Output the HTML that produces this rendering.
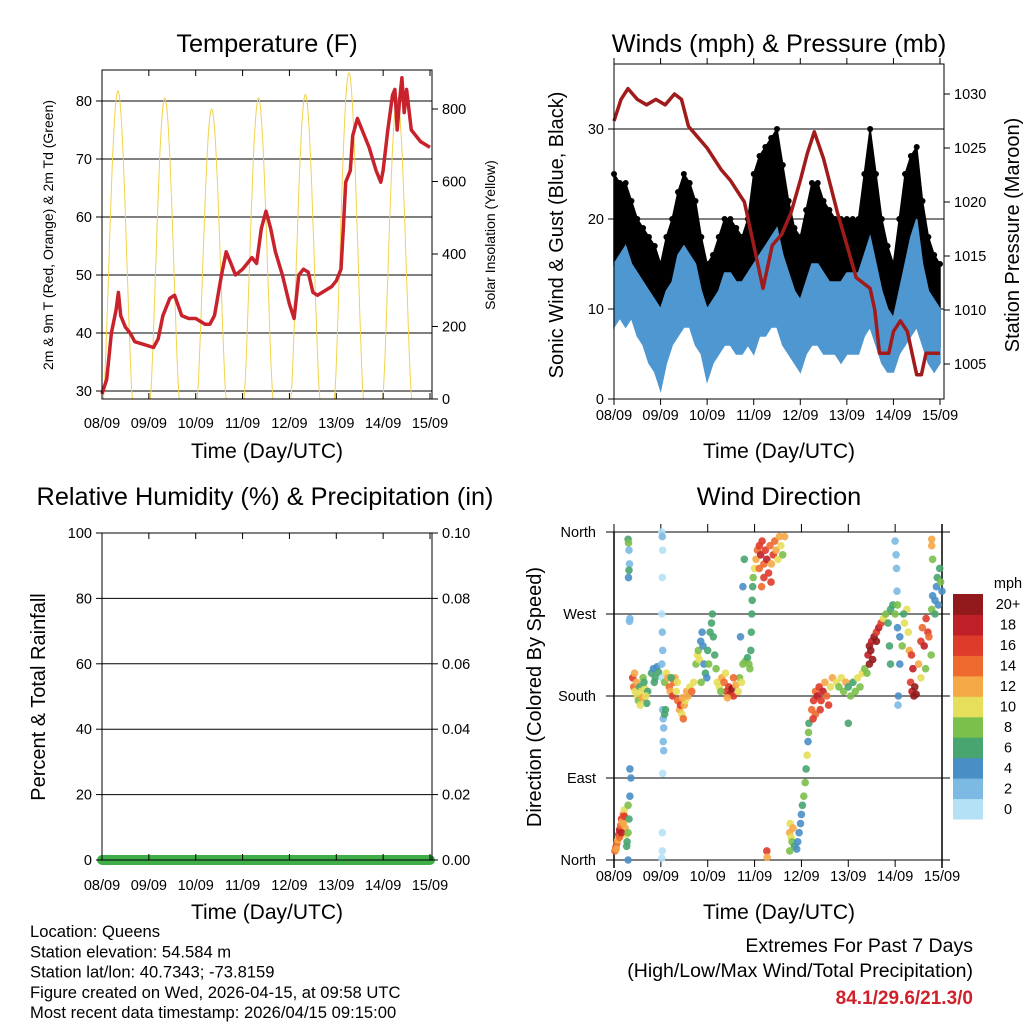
<!DOCTYPE html>
<html><head><meta charset="utf-8"><style>
body{margin:0;background:#fff;}
svg{display:block;font-family:"Liberation Sans",Arial,sans-serif;}
</style></head><body>
<svg id="c" width="1024" height="1024" viewBox="0 0 1024 1024" xmlns="http://www.w3.org/2000/svg"></svg>
<script>
// ---- Data ----
const dayLabels = ["08/09","09/09","10/09","11/09","12/09","13/09","14/09","15/09"];
const tempTimes = [0,0.1,0.2,0.3,0.35,0.4,0.5,0.6,0.7,0.9,1.1,1.2,1.3,1.45,1.55,1.7,1.85,2.0,2.2,2.3,2.4,2.55,2.65,2.75,2.85,3.0,3.1,3.2,3.3,3.4,3.5,3.6,3.7,3.85,4.0,4.1,4.2,4.3,4.4,4.5,4.6,4.7,4.9,5.0,5.1,5.15,5.2,5.3,5.35,5.45,5.55,5.7,5.85,5.95,6.0,6.1,6.2,6.25,6.3,6.35,6.4,6.45,6.5,6.6,6.8,7.0];
const tempValues = [29.5,32,40,44,47,43,41,40,38.5,38,37.5,39,43,46,46.5,43,42.5,42.5,41.5,41.5,43,50,54,52,50,51,52,53,52,58,61,58,54,50,45,42.5,50,51,50.5,47,46.5,47,48,49,51,58,66,68,74,77,75,72,68,66,68,75,81,82,75,80,84,78,82,75,73,72];
const solarPeakTimes = [0.34,1.34,2.34,3.34,4.34,5.27,6.3];
const solarPeakValues = [850,830,800,830,840,900,830];
const pressTimes = [0,0.15,0.3,0.5,0.7,0.9,1.1,1.3,1.45,1.6,1.8,2.0,2.3,2.5,2.8,2.9,3.1,3.2,3.4,3.6,3.8,4.0,4.15,4.3,4.5,4.8,5.0,5.2,5.5,5.6,5.7,5.9,6.0,6.15,6.3,6.5,6.6,6.7,7.0];
const pressValues = [1027.5,1029.5,1030.5,1029.5,1029,1029.5,1029,1030,1029.5,1027,1026,1025,1023,1022,1020,1018,1014,1012,1016,1017,1019,1022,1024.5,1026.5,1024,1019,1016,1013,1012,1010,1006,1006,1008,1009,1008,1004,1004,1006,1006];
const windTimes = [0,0.125,0.25,0.375,0.5,0.625,0.75,0.875,1.0,1.125,1.25,1.375,1.5,1.625,1.75,1.875,2.0,2.125,2.25,2.375,2.5,2.625,2.75,2.875,3.0,3.125,3.25,3.375,3.5,3.625,3.75,3.875,4.0,4.125,4.25,4.375,4.5,4.625,4.75,4.875,5.0,5.125,5.25,5.375,5.5,5.625,5.75,5.875,6.0,6.125,6.25,6.375,6.5,6.625,6.75,6.875,7.0];
const windLow = [8,9,8,9,7,6,4,3,1,4,6,7,8,8,6,5,2,4,5,6,6,5,5,6,5,7,7,8,8,6,5,4,3,5,6,6,5,5,5,4,5,5,5,7,8,6,4,3,3,5,6,7,8,6,4,3,4];
const windHigh = [15,16,17,15,14,13,12,11,10,12,13,16,17,16,15,12,10,11,12,14,14,13,13,14,15,16,17,18,19,16,14,12,11,13,15,15,14,13,13,13,14,14,14,16,18,15,12,10,9,12,15,18,20,15,12,11,10];
const gustLow = [15,16,17,15,12,11,8,6,4,8,12,14,16,15,12,9,5,7,8,11,12,11,10,11,12,14,15,16,16,13,10,9,8,10,12,12,10,9,8,8,9,10,10,13,15,12,8,6,5,8,10,13,14,11,8,7,6];
const gustHigh = [25,24,24,22,20,19,18,17,15,18,20,23,25,24,22,18,15,16,18,20,20,19,18,20,25,27,28,29,30,26,22,19,18,21,24,24,22,21,20,20,20,20,20,25,30,25,20,17,15,20,25,27,28,22,18,16,15];
const rainValues = [0,0,0,0,0,0,0,0];
const speedBins = ["0","2","4","6","8","10","12","14","16","18","20+"];
const dirObs = [
[0.02,10,14],[0.04,14,16],[0.06,18,14],[0.08,22,12],[0.1,28,16],[0.12,33,18],[0.14,38,14],[0.16,45,16],[0.18,42,12],[0.2,50,14],[0.22,55,10],[0.24,35,12],[0.26,28,10],[0.12,25,14],[0.16,30,18],[0.2,40,12],[0.05,12,12],[0.22,48,16],[0.28,20,6],[0.3,60,8],[0.32,45,6],[0.34,70,4],[0.36,90,4],[0.34,100,4],[0.3,30,8],[0.27,15,6],[0.3,0,4],
[0.3,352,6],[0.31,348,8],[0.32,340,2],[0.33,325,2],[0.32,318,6],[0.31,310,4],[0.33,262,2],[0.34,265,2],
[0.4,200,16],[0.42,190,14],[0.45,185,10],[0.48,195,12],[0.5,180,10],[0.52,175,8],[0.55,190,6],[0.58,185,10],[0.6,178,12],[0.62,200,8],[0.66,188,10],[0.7,172,6],[0.72,185,6],[0.44,205,12],[0.56,170,10],[0.64,195,6],[0.68,180,10],
[0.8,205,6],[0.84,210,4],[0.88,200,6],[0.92,212,4],[0.95,206,6],[0.86,195,6],
[1.02,360,0],[1.03,355,2],[1.04,340,0],[1.03,310,0],[1.02,270,0],[1.03,250,2],[1.04,230,2],[1.02,215,2],[1.03,200,0],[1.04,165,2],[1.05,155,2],[1.06,145,2],[1.05,130,2],[1.06,120,2],[1.04,95,0],[1.03,30,0],[1.03,10,0],[1.02,2,0],[1.08,160,6],[1.1,165,6],
[1.08,195,8],[1.12,205,10],[1.15,200,12],[1.18,190,14],[1.2,185,12],[1.25,180,16],[1.28,195,14],[1.3,200,12],[1.33,185,10],[1.36,175,14],[1.4,165,12],[1.42,170,16],[1.45,160,10],[1.48,155,14],[1.5,170,12],[1.52,175,10],[1.55,185,12],[1.58,180,12],[1.62,190,10],[1.66,185,14],[1.7,195,10],[1.35,195,10],[1.22,200,6],[1.46,178,12],
[1.75,215,8],[1.78,225,10],[1.8,230,8],[1.82,220,10],[1.85,240,4],[1.88,250,4],[1.9,235,4],[1.92,215,4],[1.95,205,6],[1.98,200,4],[2.0,230,6],[2.05,250,6],[2.08,260,6],[2.1,270,6],[2.12,245,6],[2.15,225,6],[2.18,210,8],[2.2,195,10],[1.86,195,8],[2.02,215,8],
[2.25,190,10],[2.3,200,12],[2.35,195,14],[2.4,185,16],[2.45,190,16],[2.48,182,18],[2.52,188,20],[2.55,180,16],[2.6,192,12],[2.65,185,10],[2.68,200,8],[2.72,195,10],[2.55,200,14],[2.42,178,12],[2.28,185,8],[2.38,205,10],
[2.75,215,8],[2.8,218,8],[2.85,222,6],[2.88,215,8],[2.9,210,8],[2.92,230,6],[2.93,250,6],[2.94,270,6],[2.95,285,6],[2.96,300,6],[2.97,310,8],[2.7,245,4],[2.75,300,4],[2.78,330,6],
[3.0,320,10],[3.03,330,12],[3.06,340,14],[3.1,345,16],[3.13,335,18],[3.16,350,16],[3.2,325,14],[3.23,340,16],[3.26,330,18],[3.3,315,16],[3.33,345,14],[3.36,325,12],[3.4,335,16],[3.43,350,14],[3.46,340,12],[3.5,330,10],[3.53,355,12],[3.56,345,10],[3.6,335,8],[3.64,355,12],[3.1,320,14],[3.2,310,16],[3.35,305,16],[3.15,300,14],
[3.26,10,16],[3.27,3,12],
[3.75,30,12],[3.78,25,10],[3.8,20,8],[3.85,15,6],[3.9,12,4],[3.92,20,4],[3.95,30,4],[3.98,40,4],[4.0,50,4],[3.76,40,10],[3.82,35,12],[3.75,10,8],
[4.02,60,6],[4.05,70,8],[4.08,85,8],[4.1,100,6],[4.12,115,10],[4.14,130,4],[4.15,140,8],[4.16,150,6],
[4.22,165,14],[4.26,175,16],[4.3,185,14],[4.34,180,18],[4.38,190,16],[4.42,175,16],[4.46,185,18],[4.5,195,12],[4.54,180,14],[4.58,170,16],[4.62,190,10],[4.66,200,12],[4.3,160,14],[4.4,165,16],[4.25,155,16],
[4.75,195,10],[4.8,190,8],[4.85,200,10],[4.9,185,8],[4.95,195,12],[5.0,190,6],[5.05,180,8],[5.1,195,6],[5.15,185,8],[5.2,200,10],[5.25,190,8],[5.3,205,10],[5.35,210,8],[5.0,150,6],
[5.42,225,18],[5.45,235,20],[5.48,230,20],[5.5,240,18],[5.55,245,20],[5.6,250,16],[5.65,255,18],[5.7,260,16],[5.45,215,20],[5.52,220,20],[5.4,205,8],[5.6,240,20],
[5.75,265,10],[5.8,270,8],[5.85,260,6],[5.9,275,6],[5.95,280,6],[6.0,270,8],[6.05,255,4],[6.1,245,4],[6.15,235,8],[6.2,260,10],[6.25,275,10],[6.28,250,10],[6.3,230,12],[5.88,235,6],[5.9,215,6],[6.1,215,4],[6.18,270,6],[6.05,280,8],
[6.0,350,2],[6.02,335,2],[6.03,320,2],[6.04,295,2],[6.06,170,2],[6.07,180,4],
[6.33,195,16],[6.36,185,18],[6.4,180,20],[6.42,190,20],[6.45,182,20],[6.38,210,18],[6.35,225,16],
[6.5,215,12],[6.55,240,16],[6.58,255,14],[6.62,235,18],[6.66,265,16],[6.7,250,16],[6.72,245,14],[6.55,200,10],[6.65,210,8],
[6.78,275,8],[6.8,290,4],[6.85,285,4],[6.88,300,4],[6.9,310,6],[6.95,320,6],[6.97,305,8],[7.0,295,4],[6.8,330,8],[6.78,345,12],[6.78,352,12],[6.85,270,6],[6.92,280,4],[6.77,225,8]
];
const binColors = ["#b5e1f6","#7cb9e3","#4a8ec6","#48a56f","#7bc04b","#e5df5b","#f5a846","#ee6a2f","#de3b2b","#bf1f26","#921a1c"];

// ---- helpers ----
const svg = document.getElementById('c');
const NS = "http://www.w3.org/2000/svg";
function mk(tag, attrs, parent){const e=document.createElementNS(NS,tag);for(const k in attrs)e.setAttribute(k,attrs[k]);(parent||svg).appendChild(e);return e;}
function txt(s, x, y, size, anchor, parent, extra){const e=mk('text',Object.assign({x:x,y:y,'font-size':size,'text-anchor':anchor||'middle',fill:'#000'},extra||{}),parent);e.textContent=s;return e;}
function lin(a,b,c,d){return v=>c+(v-a)*(d-c)/(b-a);}
function line(x1,y1,x2,y2,p,w,col){return mk('line',{x1:x1,y1:y1,x2:x2,y2:y2,stroke:col||'#000','stroke-width':w||1},p);}
const TS=14.5, TT=25.3, AT=21;

// ===== Panel 1: Temperature =====
(function(){
 const g=mk('g',{});  
 const L=102,R=432,T=70,B=399;
 const X=lin(0,7,L,430), Y=lin(30,80,391,101), Ys=lin(0,800,399,109);
 for(let v=30;v<=80;v+=10){line(L,Y(v),R,Y(v),g,1);}
 const sg=mk('g',{},g);  
 solarPeakTimes.forEach((pt,i)=>{let d='';const hw=0.31;for(let k=0;k<=40;k++){const t=pt-hw+2*hw*k/40;const f=Math.max(0,Math.sin(Math.PI*k/40));const v=solarPeakValues[i]*Math.pow(f,1.4);d+=(k?'L':'M')+X(t).toFixed(1)+','+Ys(v).toFixed(1);}
  const p=mk('path',{d:d,fill:'none',stroke:'#f2d24a','stroke-width':1},sg);  });
 let d=''; tempTimes.forEach((t,i)=>{d+=(i?'L':'M')+X(t).toFixed(1)+','+Y(tempValues[i]).toFixed(1);});
 const tp=mk('path',{d:d,fill:'none',stroke:'#c8232c','stroke-width':3.5,'stroke-linejoin':'round'},g);
  
 mk('rect',{x:L,y:T,width:R-L,height:B-T,fill:'none',stroke:'#000','stroke-width':1},g);
 for(let v=30;v<=80;v+=10){line(L-6,Y(v),L,Y(v),g);txt(String(v),L-10,Y(v)+5,TS,'end',g);}
 for(let v=0;v<=800;v+=200){line(R,Ys(v),R+6,Ys(v),g);txt(String(v),R+10,Ys(v)+5,TS,'start',g);}
 dayLabels.forEach((s,i)=>{line(X(i),B,X(i),B-6,g);line(X(i),T,X(i),T+6,g);txt(s,X(i),B+29,TS,'middle',g);});
 const t=txt('Temperature (F)',267,52,TT,'middle',g); 
 txt('Time (Day/UTC)',267,458,AT,'middle',g);
 txt('2m & 9m T (Red, Orange) & 2m Td (Green)',0,0,14,'middle',g,{transform:'translate(53,235) rotate(-90)'});
 txt('Solar Insolation (Yellow)',0,0,14,'middle',g,{transform:'translate(495,235) rotate(-90)'});
})();

// ===== Panel 2: Winds =====
(function(){
 const g=mk('g',{});  
 const L=614,R=944,T=64,B=399;
 const X=lin(0,7,614,940), Y=lin(0,30,399,129), Yp=lin(1005,1030,364,94);
 for(let v=10;v<=30;v+=10){line(L,Y(v),R,Y(v),g,1);}
 function band(lo,hi,col,name){let d='';windTimes.forEach((t,i)=>{d+=(i?'L':'M')+X(t).toFixed(1)+','+Y(hi[i]).toFixed(1);});for(let i=windTimes.length-1;i>=0;i--){d+='L'+X(windTimes[i]).toFixed(1)+','+Y(lo[i]).toFixed(1);}d+='Z';const p=mk('path',{d:d,fill:col,stroke:col,'stroke-width':1.5},g);}
 band(gustLow,gustHigh,'#000','gust-band');
 windTimes.forEach((t,i)=>{const c=mk('circle',{cx:X(t),cy:Y(gustHigh[i]),r:3,fill:'#000'},g);});
 band(windLow,windHigh,'#4f97d0','wind-speed-band');
 let d=''; pressTimes.forEach((t,i)=>{d+=(i?'L':'M')+X(t).toFixed(1)+','+Yp(pressValues[i]).toFixed(1);});
 const pp=mk('path',{d:d,fill:'none',stroke:'#a11b1b','stroke-width':3.5,'stroke-linejoin':'round'},g);
  
 mk('rect',{x:L,y:T,width:R-L,height:B-T,fill:'none',stroke:'#000','stroke-width':1},g);
 for(let v=0;v<=30;v+=10){line(L-6,Y(v),L,Y(v),g);txt(String(v),L-10,Y(v)+5,TS,'end',g);}
 for(let v=1005;v<=1030;v+=5){line(R,Yp(v),R+6,Yp(v),g);txt(String(v),R+10,Yp(v)+5,TS,'start',g);}
 dayLabels.forEach((s,i)=>{line(X(i),B,X(i),B+6,g);line(X(i),T,X(i),T-6,g);txt(s,X(i),B+21,TS,'middle',g);});
 txt('Winds (mph) & Pressure (mb)',779,52,TT,'middle',g);
 txt('Time (Day/UTC)',779,458,AT,'middle',g);
 txt('Sonic Wind & Gust (Blue, Black)',0,0,20,'middle',g,{transform:'translate(563,235) rotate(-90)'});
 txt('Station Pressure (Maroon)',0,0,20,'middle',g,{transform:'translate(1019,235) rotate(-90)'});
})();

// ===== Panel 3: RH & precip =====
(function(){
 const g=mk('g',{});  
 const L=102,R=432,T=533,B=860;
 const X=lin(0,7,L,430), Y=lin(0,100,860,533), Yr=lin(0,0.1,860,533);
 for(let v=20;v<=100;v+=20){line(L,Y(v),R,Y(v),g,1);}
 let d=''; rainValues.forEach((v,i)=>{d+=(i?'L':'M')+X(i).toFixed(1)+','+Yr(v).toFixed(1);});
 const rp=mk('path',{d:d,fill:'none',stroke:'#3fae49','stroke-width':10,'stroke-linecap':'round'},g);
  
 mk('rect',{x:L,y:T,width:R-L,height:B-T,fill:'none',stroke:'#000','stroke-width':1},g);
 for(let v=0;v<=100;v+=20){line(L-6,Y(v),L,Y(v),g);txt(String(v),L-10,Y(v)+5,TS,'end',g);}
 for(let k=0;k<=5;k++){const v=k*0.02;line(R,Yr(v),R+6,Yr(v),g);txt(v.toFixed(2),R+10,Yr(v)+5,TS,'start',g);}
 dayLabels.forEach((s,i)=>{line(X(i),B,X(i),B-6,g);line(X(i),T,X(i),T+6,g);txt(s,X(i),B+30,TS,'middle',g);});
 txt('Relative Humidity (%) & Precipitation (in)',265,505,TT,'middle',g);
 txt('Time (Day/UTC)',267,919,AT,'middle',g);
 txt('Percent & Total Rainfall',0,0,20,'middle',g,{transform:'translate(45,697) rotate(-90)'});
})();

// ===== Panel 4: Wind direction =====
(function(){
 const g=mk('g',{});  
 const X=lin(0,7,614,942), Y=lin(0,360,860,532);
 const names=["North","East","South","West","North"];
 names.forEach((n,i)=>{const y=Y(i*90);line(606,y,950,y,g,1);txt(n,596,y+5,TS,'end',g);});
 line(614,532,614,868,g,1.5); line(942,524,942,868,g,1.5);
 dayLabels.forEach((s,i)=>{line(X(i),860,X(i),867,g);line(X(i),532,X(i),524,g);txt(s,X(i),881,TS,'middle',g);});
 const pg=mk('g',{},g);  
 dirObs.forEach(o=>{const b=Math.min(10,Math.floor(o[2]/2));const c=mk('circle',{cx:X(o[0]).toFixed(1),cy:Y(o[1]).toFixed(1),r:3.8,fill:binColors[b],'fill-opacity':0.9},pg);
  
  });
 txt('Wind Direction',779,505,TT,'middle',g);
 txt('Time (Day/UTC)',779,919,AT,'middle',g);
 txt('Direction (Colored By Speed)',0,0,20,'middle',g,{transform:'translate(541,697) rotate(-90)'});
 const lg=mk('g',{},g);  
 txt('mph',1008,588,TS,'middle',lg);
 const h=(819-594)/11;
 speedBins.forEach((s,i)=>{const y=594+(10-i)*h;const r=mk('rect',{x:953,y:y.toFixed(1),width:30,height:(h+0.5).toFixed(1),fill:binColors[i]},lg);
  
  
  txt(s,1008,y+h/2+5,TS,'middle',lg);});
})();

// ===== Footer =====
(function(){
 const g=mk('g',{});  
 const lines=["Location: Queens","Station elevation: 54.584 m","Station lat/lon: 40.7343; -73.8159","Figure created on Wed, 2026-04-15, at 09:58 UTC","Most recent data timestamp: 2026/04/15 09:15:00"];
 lines.forEach((s,i)=>txt(s,30,937+i*20.3,16.6,'start',g));
 const e=mk('g',{});  
 txt('Extremes For Past 7 Days',973,952,19.5,'end',e);
 txt('(High/Low/Max Wind/Total Precipitation)',973,977,19.5,'end',e);
 txt('84.1/29.6/21.3/0',973,1004,19,'end',e,{fill:'#d0202a','font-weight':'bold'});
})();
</script>
</body></html>
